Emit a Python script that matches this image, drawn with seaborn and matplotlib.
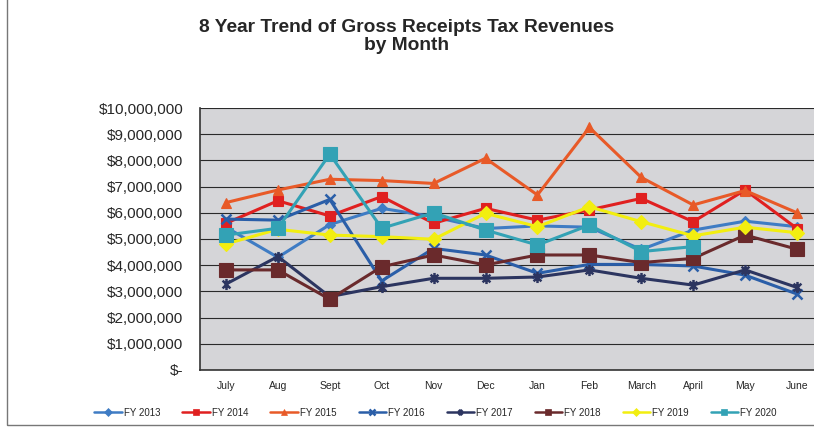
import numpy as np
import pandas as pd
import matplotlib
matplotlib.use("Agg")
import matplotlib.pyplot as plt
import seaborn as sns
from matplotlib.ticker import FuncFormatter, FixedLocator
from matplotlib.patches import Rectangle
from matplotlib.path import Path
from matplotlib.lines import Line2D

months = ["July", "Aug", "Sept", "Oct", "Nov", "Dec", "Jan", "Feb", "March", "April", "May", "June"]

fy2013 = [5.45, 4.30, 5.55, 6.17, 5.85, 5.40, 5.50, 5.45, 4.60, 5.34, 5.68, 5.47]
fy2014 = [5.60, 6.46, 5.88, 6.62, 5.60, 6.17, 5.72, 6.11, 6.55, 5.66, 6.87, 5.40]
fy2015 = [6.39, 6.87, 7.28, 7.23, 7.12, 8.08, 6.68, 9.26, 7.35, 6.30, 6.85, 6.00]
fy2016 = [5.76, 5.72, 6.51, 3.40, 4.64, 4.39, 3.69, 4.03, 4.03, 3.97, 3.62, 2.90]
fy2017 = [3.28, 4.33, 2.80, 3.18, 3.50, 3.50, 3.55, 3.82, 3.50, 3.24, 3.82, 3.15]
fy2018 = [3.82, 3.82, 2.70, 3.94, 4.39, 4.01, 4.39, 4.39, 4.10, 4.26, 5.15, 4.61]
fy2019 = [4.81, 5.37, 5.15, 5.09, 4.99, 5.98, 5.47, 6.23, 5.66, 5.12, 5.45, 5.24]
fy2020 = [5.15, 5.41, 8.24, 5.41, 6.00, 5.34, 4.77, 5.53, 4.52, 4.71, np.nan, np.nan]

series_names = ["FY 2013", "FY 2014", "FY 2015", "FY 2016", "FY 2017", "FY 2018", "FY 2019", "FY 2020"]
series_values = [fy2013, fy2014, fy2015, fy2016, fy2017, fy2018, fy2019, fy2020]
yticks = [0, 1e6, 2e6, 3e6, 4e6, 5e6, 6e6, 7e6, 8e6, 9e6, 1e7]

colors = {
    "FY 2013": "#3F7CC4",
    "FY 2014": "#E02020",
    "FY 2015": "#E85A28",
    "FY 2016": "#2A5EA8",
    "FY 2017": "#2C3560",
    "FY 2018": "#6A2A2C",
    "FY 2019": "#F2EE10",
    "FY 2020": "#33A2B5",
}

# asterisk-like marker (x with a vertical bar), as Excel's "star" marker
star_path = Path(
    [(-0.7, -0.7), (0.7, 0.7), (-0.7, 0.7), (0.7, -0.7), (0.0, -1.0), (0.0, 1.0)],
    [Path.MOVETO, Path.LINETO, Path.MOVETO, Path.LINETO, Path.MOVETO, Path.LINETO],
)

markers = {
    "FY 2013": ("D", 5),
    "FY 2014": ("s", 7),
    "FY 2015": ("^", 7),
    "FY 2016": ("x", 7),
    "FY 2017": (star_path, 8),
    "FY 2018": ("s", 9.5),
    "FY 2019": ("D", 7),
    "FY 2020": ("s", 9.5),
}

rows = []
for name, vals in zip(series_names, series_values):
    for i, (m, v) in enumerate(zip(months, vals)):
        if not np.isnan(v):
            rows.append({"series": name, "idx": i, "month": m, "value": v * 1e6})
df = pd.DataFrame(rows)

sns.set_style("white")
plt.rcParams["font.family"] = ["Liberation Sans", "DejaVu Sans"]

fig = plt.figure(figsize=(8.14, 4.30), dpi=100)
fig.patch.set_facecolor("white")
ax = fig.add_axes([200 / 814, 60 / 430, 623 / 814, 262 / 430])
ax.set_facecolor("#D5D5D8")

legend_handles = []
for name in series_names:
    sub = df[df["series"] == name]
    mk, ms = markers[name]
    n_before = len(ax.lines)
    sns.lineplot(data=sub, x="idx", y="value", ax=ax, color=colors[name],
                 marker="o", markersize=ms, linewidth=2.2,
                 legend=False, zorder=3)
    line = ax.lines[n_before]
    thin = isinstance(mk, str) and mk != "x"
    mew = 0.8 if thin else 1.8
    line.set_marker(mk)
    line.set_markersize(ms)
    line.set_markeredgecolor(colors[name])
    line.set_markerfacecolor(colors[name])
    line.set_markeredgewidth(mew)
    legend_handles.append(Line2D([], [], color=colors[name], marker=mk,
                                 markersize=4.5, markeredgewidth=mew if not thin else 0.5,
                                 markerfacecolor=colors[name], markeredgecolor=colors[name],
                                 linewidth=1.8))

ax.set_xlim(-0.5, 11.5)
ax.set_ylim(0, 1e7)
ax.yaxis.set_major_locator(FixedLocator(yticks))

def money(v, pos):
    if v == 0:
        return "$-"
    return "${:,.0f}".format(v)

ax.yaxis.set_major_formatter(FuncFormatter(money))
ax.set_xticks(range(12))
ax.set_xticklabels(months, fontsize=7.5)
ax.set_xticks(np.arange(-0.5, 12, 1), minor=True)
ax.tick_params(axis="x", which="major", length=0, pad=8)
ax.tick_params(axis="x", which="minor", length=4, color="#333333", direction="out")
ax.tick_params(axis="y", labelsize=11, length=5, color="#333333", direction="out", pad=7)
ax.set_xlabel("")
ax.set_ylabel("")
ax.grid(axis="y", color="#2a2a2a", linewidth=0.8)
ax.grid(axis="x", visible=False)
ax.set_axisbelow(True)
for s in ["top", "right"]:
    ax.spines[s].set_visible(False)
for s in ["left", "bottom"]:
    ax.spines[s].set_color("#333333")
    ax.spines[s].set_linewidth(1.2)

fig.suptitle("8 Year Trend of Gross Receipts Tax Revenues\nby Month", x=0.5, y=0.955,
             fontsize=13.8, fontweight="bold", linespacing=1.05)

fig.legend(legend_handles, series_names, loc="center", bbox_to_anchor=(0.535, 0.04), ncol=8,
           frameon=False, fontsize=7, handlelength=2.8, columnspacing=2.3,
           handletextpad=0.2)

fig.add_artist(Rectangle((7 / 814, 5 / 430), 1.0, 1.0, transform=fig.transFigure,
                         fill=False, edgecolor="#777777", linewidth=1.0))

fig.savefig("out.png", dpi=100)
